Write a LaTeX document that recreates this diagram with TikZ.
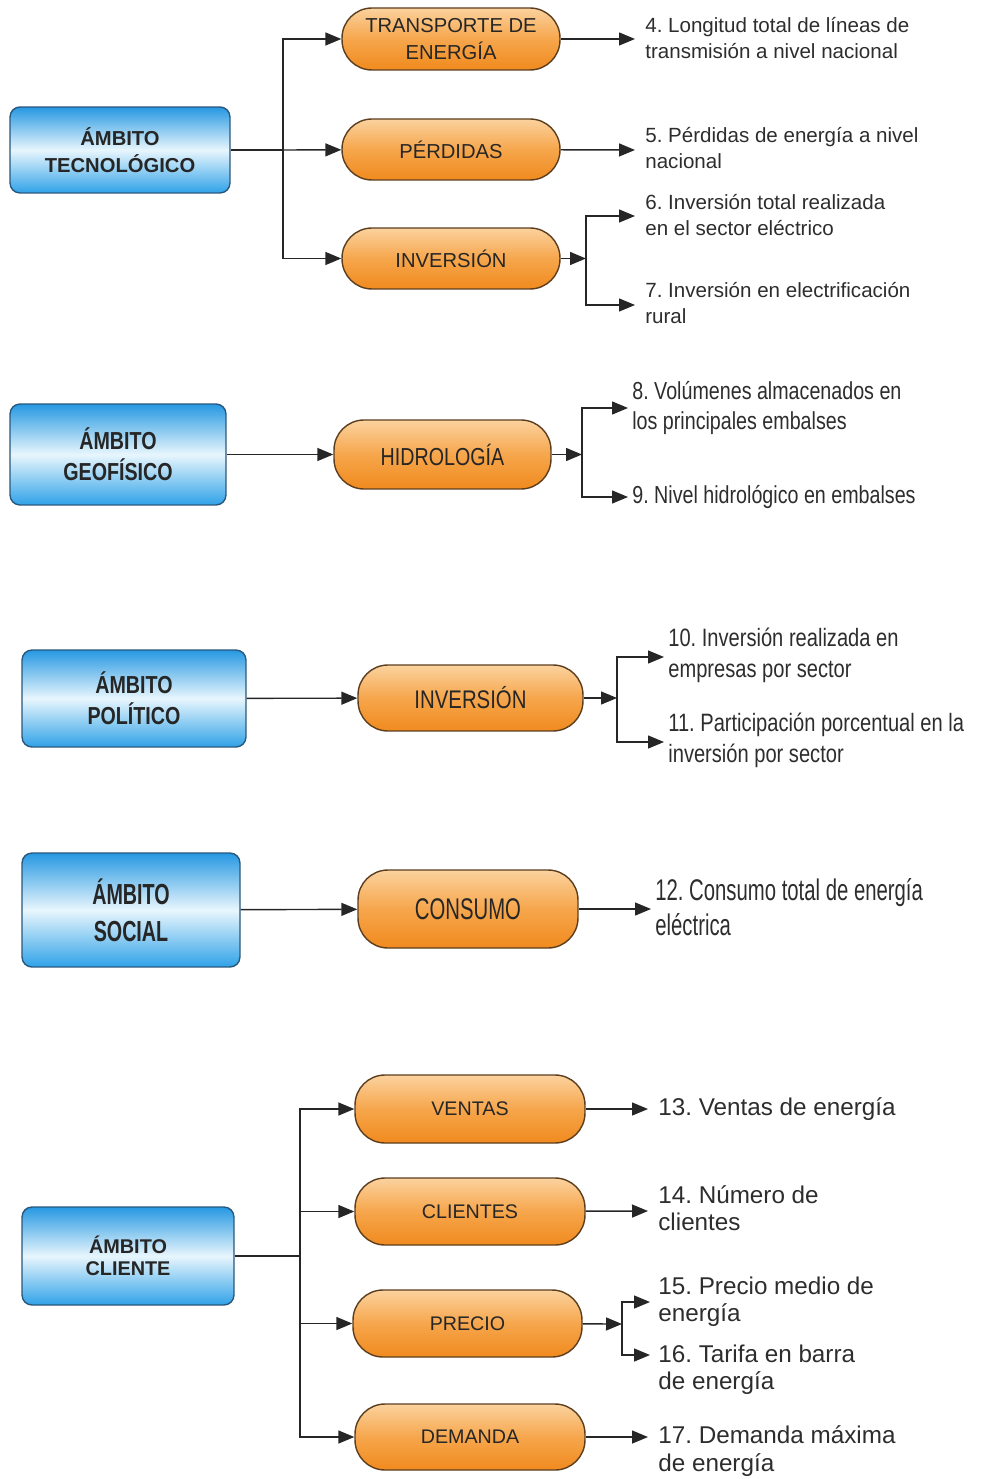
\documentclass[tikz,border=0pt]{standalone}
\usepackage{fontspec}
\setmainfont{Liberation Sans}
\newfontfamily\narrowfont[FakeStretch=0.8]{Liberation Sans}
\newfontfamily\narrowerfont[FakeStretch=0.68]{Liberation Sans}
\usetikzlibrary{arrows.meta}
\definecolor{ambitoTop}{RGB}{38,152,226}
\definecolor{ambitoMid}{RGB}{232,246,253}
\definecolor{ambitoBot}{RGB}{48,162,232}
\definecolor{ambitoLine}{RGB}{40,88,125}
\definecolor{temaTop}{RGB}{251,210,158}
\definecolor{temaMid}{RGB}{246,166,76}
\definecolor{temaBot}{RGB}{240,138,30}
\definecolor{temaLine}{RGB}{92,62,30}
\definecolor{textoGris}{RGB}{45,45,45}
\frenchspacing
\begin{document}
\begin{tikzpicture}[x=0.02cm,y=-0.02cm]
		\tikzstyle{ambito-node}=[draw=ambitoLine,line width=0.8pt,rounded corners=0.2cm,top color=ambitoTop,bottom color=ambitoBot,middle color=ambitoMid,align=center,inner sep=0pt,text=black!85]
		\tikzstyle{tema-node}=[draw=temaLine,line width=0.8pt,rounded corners=0.6cm,top color=temaTop,bottom color=temaBot,middle color=temaMid,align=center,inner sep=0pt,text=black!85]
		\tikzstyle{indicador}=[anchor=west,align=left,inner sep=0pt,text=textoGris]
		\tikzstyle{mapsto}=[-{Triangle[length=0.32cm,width=0.26cm]},line width=0.8pt,color=black!85]
		\tikzstyle{rama}=[line width=0.8pt,color=black!85]
		\useasboundingbox (0,0) rectangle (987,1479);
		% ambito tecnologico
		\node [ambito-node,minimum width=4.4cm,minimum height=1.72cm,font=\bfseries\fontsize{11.5}{15.5}\selectfont] at (120,150) (tec) {ÁMBITO\\TECNOLÓGICO};
		\node [tema-node,minimum width=4.36cm,minimum height=1.24cm,font=\fontsize{11.5}{15.3}\selectfont] at (451,39) (trans) {TRANSPORTE DE\\ENERGÍA};
		\node [tema-node,minimum width=4.36cm,minimum height=1.22cm,font=\fontsize{11.5}{15.3}\selectfont] at (451,149.5) (perd) {PÉRDIDAS};
		\node [tema-node,minimum width=4.36cm,minimum height=1.22cm,font=\fontsize{11.5}{15.3}\selectfont] at (451,258.5) (inv1) {INVERSIÓN};
		\coordinate (j1) at (283,150);
		\coordinate (j2) at (586,258.5);
		\coordinate (a4) at (635,39);
		\coordinate (a5) at (635,150);
		\coordinate (a6) at (635,216);
		\coordinate (a7) at (635,305);
		\node [indicador,font=\fontsize{11.7}{15.3}\selectfont] at (645,38) (t4) {4. Longitud total de líneas de\\transmisión a nivel nacional};
		\node [indicador,font=\fontsize{11.7}{15.3}\selectfont] at (645,148) (t5) {5. Pérdidas de energía a nivel\\nacional};
		\node [indicador,font=\fontsize{11.7}{15.3}\selectfont] at (645,215) (t6) {6. Inversión total realizada\\en el sector eléctrico};
		\node [indicador,font=\fontsize{11.7}{15.3}\selectfont] at (645,303) (t7) {7. Inversión en electrificación\\rural};
		\draw [rama] (tec) -- (j1);
		\draw [mapsto] (j1) |- (trans);
		\draw [mapsto] (j1) -- (perd);
		\draw [mapsto] (j1) |- (inv1);
		\draw [mapsto] (trans) -- (a4);
		\draw [mapsto] (perd) -- (a5);
		\draw [mapsto] (inv1) -- (j2);
		\draw [mapsto] (j2) |- (a6);
		\draw [mapsto] (j2) |- (a7);
		% ambito geofisico
		\node [ambito-node,minimum width=4.32cm,minimum height=2.02cm,font=\narrowfont\bfseries\fontsize{14}{17.5}\selectfont] at (118,454.5) (geo) {ÁMBITO\\GEOFÍSICO};
		\node [tema-node,minimum width=4.34cm,minimum height=1.38cm,font=\narrowfont\fontsize{14}{17.5}\selectfont] at (442.5,454.5) (hidro) {HIDROLOGÍA};
		\coordinate (j3) at (582,454.5);
		\coordinate (a8) at (628,408);
		\coordinate (a9) at (628,497);
		\node [indicador,font=\narrowfont\fontsize{14}{17.5}\selectfont] at (632,408) (t8) {8. Volúmenes almacenados en\\los principales embalses};
		\node [indicador,font=\narrowfont\fontsize{14}{17.5}\selectfont] at (632,497) (t9) {9. Nivel hidrológico en embalses};
		\draw [mapsto] (geo) -- (hidro);
		\draw [mapsto] (hidro) -- (j3);
		\draw [mapsto] (j3) |- (a8);
		\draw [mapsto] (j3) |- (a9);
		% ambito politico
		\node [ambito-node,minimum width=4.48cm,minimum height=1.94cm,font=\narrowfont\bfseries\fontsize{14}{17.5}\selectfont] at (134,698.5) (pol) {ÁMBITO\\POLÍTICO};
		\node [tema-node,minimum width=4.5cm,minimum height=1.32cm,font=\narrowfont\fontsize{14.5}{17.5}\selectfont] at (470.5,698) (inv2) {INVERSIÓN};
		\coordinate (j4) at (617,698);
		\coordinate (a10) at (664,657);
		\coordinate (a11) at (664,742);
		\node [indicador,font=\narrowfont\fontsize{14.3}{17.5}\selectfont] at (668,655) (t10) {10. Inversión realizada en\\empresas por sector};
		\node [indicador,font=\narrowfont\fontsize{14.3}{17.5}\selectfont] at (668,740) (t11) {11. Participación porcentual en la\\inversión por sector};
		\draw [mapsto] (pol) -- (inv2);
		\draw [mapsto] (inv2) -- (j4);
		\draw [mapsto] (j4) |- (a10);
		\draw [mapsto] (j4) |- (a11);
		% ambito social
		\node [ambito-node,minimum width=4.36cm,minimum height=2.28cm,font=\narrowerfont\bfseries\fontsize{16.5}{21}\selectfont] at (131,910) (soc) {ÁMBITO\\SOCIAL};
		\node [tema-node,minimum width=4.4cm,minimum height=1.56cm,font=\narrowerfont\fontsize{17}{21}\selectfont] at (468,909) (cons) {CONSUMO};
		\coordinate (a12) at (651,909);
		\node [indicador,font=\narrowerfont\fontsize{17}{20}\selectfont] at (655,907) (t12) {12. Consumo total de energía\\eléctrica};
		\draw [mapsto] (soc) -- (cons);
		\draw [mapsto] (cons) -- (a12);
		% ambito cliente
		\node [ambito-node,minimum width=4.24cm,minimum height=1.96cm,font=\bfseries\fontsize{11.3}{12.5}\selectfont] at (128,1256) (cli) {ÁMBITO\\CLIENTE};
		\node [tema-node,minimum width=4.6cm,minimum height=1.36cm,font=\fontsize{11.2}{13}\selectfont] at (470,1109) (ventas) {VENTAS};
		\node [tema-node,minimum width=4.6cm,minimum height=1.34cm,font=\fontsize{11.2}{13}\selectfont] at (470,1211.5) (clientes) {CLIENTES};
		\node [tema-node,minimum width=4.58cm,minimum height=1.34cm,font=\fontsize{11.2}{13}\selectfont] at (467.5,1323.5) (precio) {PRECIO};
		\node [tema-node,minimum width=4.6cm,minimum height=1.32cm,font=\fontsize{11.2}{13}\selectfont] at (470,1437) (demanda) {DEMANDA};
		\coordinate (j5) at (300,1256);
		\coordinate (j6) at (622,1324);
		\coordinate (a13) at (648,1109);
		\coordinate (a14) at (648,1211);
		\coordinate (a15) at (650,1302);
		\coordinate (a16) at (650,1355);
		\coordinate (a17) at (648,1437);
		\node [indicador,font=\fontsize{13.8}{15.6}\selectfont] at (658,1109) (t13) {13. Ventas de energía};
		\node [indicador,font=\fontsize{13.8}{15.6}\selectfont] at (658,1208) (t14) {14. Número de\\clientes};
		\node [indicador,font=\fontsize{13.8}{15.6}\selectfont] at (658,1302) (t15) {15. Precio medio de\\energía};
		\node [indicador,font=\fontsize{13.8}{15.6}\selectfont] at (658,1370) (t16) {16. Tarifa en barra\\de energía};
		\node [indicador,font=\fontsize{13.8}{15.6}\selectfont] at (658,1451) (t17) {17. Demanda máxima\\de energía};
		\draw [rama] (cli) -- (j5);
		\draw [mapsto] (j5) |- (ventas);
		\draw [mapsto] (j5) |- (clientes);
		\draw [mapsto] (j5) |- (precio);
		\draw [mapsto] (j5) |- (demanda);
		\draw [mapsto] (ventas) -- (a13);
		\draw [mapsto] (clientes) -- (a14);
		\draw [mapsto] (precio) -- (j6);
		\draw [mapsto] (j6) |- (a15);
		\draw [mapsto] (j6) |- (a16);
		\draw [mapsto] (demanda) -- (a17);
	\end{tikzpicture}
\end{document}
